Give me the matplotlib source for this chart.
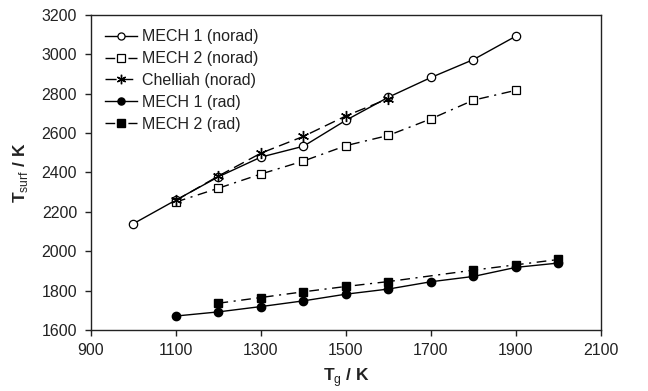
import matplotlib
matplotlib.use('agg')
import matplotlib.pyplot as plt
from matplotlib import rcParams
rcParams['font.family'] = ['Liberation Sans', 'DejaVu Sans']
rcParams['mathtext.fontset'] = 'custom'
rcParams['mathtext.rm'] = 'Liberation Sans'
rcParams['mathtext.bf'] = 'Liberation Sans:bold'
rcParams.update({'font.size': 11.5})

# surface temperature vs gas temperature
tg_m1 = [1000, 1100, 1200, 1300, 1400, 1500, 1600, 1700, 1800, 1900]
ts_m1 = [2140, 2260, 2378, 2478, 2533, 2665, 2782, 2882, 2973, 3092]

tg_m2 = [1100, 1200, 1300, 1400, 1500, 1600, 1700, 1800, 1900]
ts_m2 = [2250, 2320, 2392, 2458, 2536, 2588, 2672, 2767, 2817]

tg_ch = [1100, 1200, 1300, 1400, 1500, 1600]
ts_ch = [2258, 2382, 2498, 2583, 2687, 2775]

tg_m1r = [1100, 1200, 1300, 1400, 1500, 1600, 1700, 1800, 1900, 2000]
ts_m1r = [1671, 1692, 1719, 1748, 1782, 1808, 1845, 1872, 1918, 1940]

tg_m2r = [1200, 1300, 1400, 1500, 1600, 1800, 1900, 2000]
ts_m2r = [1736, 1765, 1794, 1821, 1846, 1904, 1931, 1958]

fig = plt.figure(figsize=(6.48, 3.91), dpi=100)
ax = fig.add_axes([0.1404, 0.156, 0.787, 0.806])

ax.plot(tg_m1, ts_m1, '-', color='k', lw=1, marker='o', ms=6,
        mfc='white', mec='k', mew=0.9, label='MECH 1 (norad)')
ax.plot(tg_m2, ts_m2, color='k', lw=1, dashes=[7, 4, 1.5, 4], marker='s', ms=6,
        mfc='white', mec='k', mew=0.9, label='MECH 2 (norad)')
ax.plot(tg_ch, ts_ch, color='k', lw=1, dashes=[8, 4], marker=(6, 2, 0), ms=8,
        mec='k', mew=1, label='Chelliah (norad)')
ax.plot(tg_m1r, ts_m1r, '-', color='k', lw=1, marker='o', ms=6,
        mfc='k', mec='k', label='MECH 1 (rad)')
ax.plot(tg_m2r, ts_m2r, color='k', lw=1, dashes=[7, 4, 1.5, 4], marker='s', ms=6,
        mfc='k', mec='k', label='MECH 2 (rad)')

ax.set_xlim(900, 2100)
ax.set_ylim(1600, 3200)
ax.set_xticks(range(900, 2101, 200))
ax.set_yticks(range(1600, 3201, 200))
ax.tick_params(direction='out', length=4, width=1, colors='#222222',
               labelcolor='#222222', labelsize=11.5)
ax.tick_params(axis='x', pad=5)
ax.tick_params(axis='y', pad=6)
for s in ax.spines.values():
    s.set_linewidth(1)
    s.set_color('#222222')

ax.set_xlabel(r'$\mathbf{T}_{\mathrm{g}}$ / K', fontsize=12.5, fontweight='bold',
              labelpad=6, color='#222222')
ax.set_ylabel(r'$\mathbf{T}_{\mathrm{surf}}$ / K', fontsize=12.5, fontweight='bold',
              labelpad=8, color='#222222')

leg = ax.legend(loc='upper left', frameon=False, fontsize=11.5, handlelength=2.0,
                handletextpad=0.3, labelspacing=0.43, borderaxespad=0.5,
                markerscale=0.85)
for t in leg.get_texts():
    t.set_color('#222222')

plt.savefig('out.png', dpi=100)
